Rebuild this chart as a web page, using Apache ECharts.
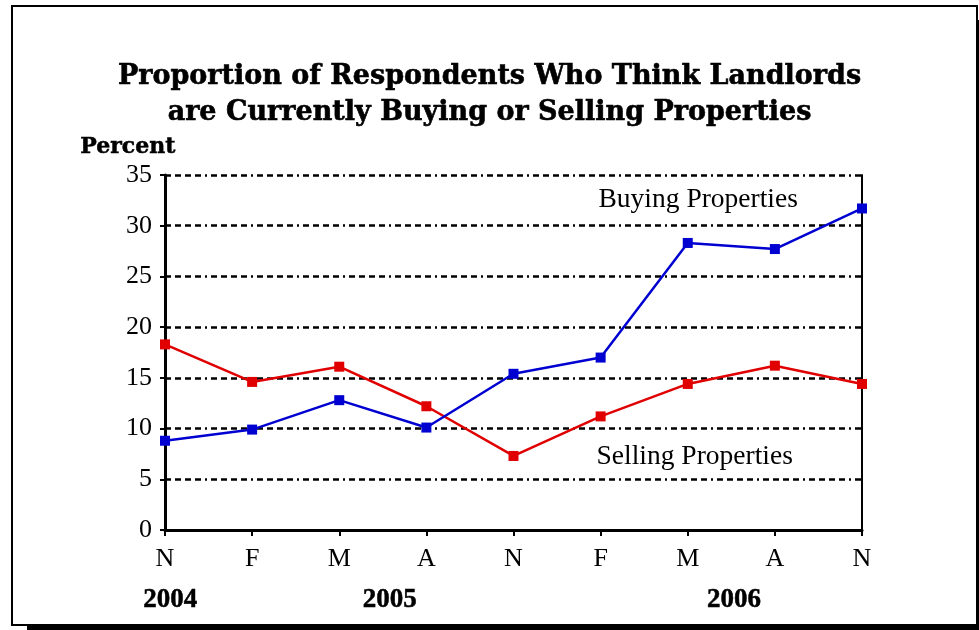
<!DOCTYPE html>
<html>
<head>
<meta charset="utf-8">
<script src="https://cdn.jsdelivr.net/npm/echarts@6/dist/echarts.min.js"></script>
<style>
  html, body { margin: 0; padding: 0; background: #fff; }
  #chart { width: 979px; height: 630px; }
</style>
</head>
<body>
<div id="chart"></div>
<script>
// Survey periods (month initials) and the year each group starts in
const months = ['N', 'F', 'M', 'A', 'N', 'F', 'M', 'A', 'N'];
const years = [
  { text: '2004', pos: 0.06 },
  { text: '2005', pos: 2.58 },
  { text: '2006', pos: 6.53 }
];
// Share of respondents (%)
const buying = [8.8, 9.9, 12.8, 10.1, 15.4, 17.0, 28.3, 27.7, 31.7];
const selling = [18.3, 14.6, 16.1, 12.2, 7.3, 11.2, 14.4, 16.2, 14.4];
// Y axis ticks
const yMin = 0, yMax = 35, yStep = 5;

const serif = '"Liberation Serif", "Times New Roman", serif';
const titleFont = '"DejaVu Serif", serif';
const gridDash = [6, 4, 6, 4, 6, 4, 6, 4, 2, 4];

const chart = echarts.init(document.getElementById('chart'), null, { renderer: 'canvas' });

const option = {
  backgroundColor: '#ffffff',
  animation: false,
  title: {
    text: 'Proportion of Respondents Who Think Landlords\nare Currently Buying or Selling Properties',
    left: 'center',
    top: 54,
    textStyle: {
      fontFamily: titleFont,
      fontWeight: 'bold',
      fontSize: 27,
      lineHeight: 36,
      color: '#000',
      textBorderColor: '#000',
      textBorderWidth: 0.6
    }
  },
  grid: { left: 165, right: 117, top: 175, bottom: 100 },
  xAxis: {
    type: 'category',
    data: months,
    boundaryGap: false,
    axisLine: { show: true, lineStyle: { color: '#000', width: 3 } },
    axisTick: { show: true, inside: false, length: 6, alignWithLabel: true, lineStyle: { color: '#000', width: 2 } },
    axisLabel: { margin: 16, fontFamily: serif, fontSize: 26, color: '#000' },
    splitLine: { show: false }
  },
  yAxis: [
    {
      type: 'value',
      min: yMin,
      max: yMax,
      interval: yStep,
      axisLine: { show: true, lineStyle: { color: '#000', width: 3 } },
      axisTick: { show: true, length: 5, lineStyle: { color: '#000', width: 2 } },
      axisLabel: { margin: 13, fontFamily: serif, fontSize: 26, color: '#000' },
      splitLine: { show: true, lineStyle: { color: '#000', width: 2.5, type: gridDash } }
    },
    {
      type: 'value',
      position: 'right',
      min: yMin,
      max: yMax,
      interval: yStep,
      axisLine: { show: true, lineStyle: { color: '#000', width: 2 } },
      axisTick: { show: false },
      axisLabel: { show: false },
      splitLine: { show: false }
    }
  ],
  series: [
    {
      name: 'Selling Properties',
      type: 'line',
      data: selling,
      symbol: 'rect',
      symbolSize: 10,
      z: 3,
      lineStyle: { color: '#E00000', width: 2.5 },
      itemStyle: { color: '#E00000' }
    },
    {
      name: 'Buying Properties',
      type: 'line',
      data: buying,
      symbol: 'rect',
      symbolSize: 10,
      z: 4,
      lineStyle: { color: '#0000D0', width: 2.5 },
      itemStyle: { color: '#0000D0' }
    }
  ]
};

chart.setOption(option);

// Pixel position for a (possibly fractional) category index and value
function px(idx, val) {
  const i0 = Math.floor(idx);
  const i1 = Math.min(i0 + 1, months.length - 1);
  const a = chart.convertToPixel({ gridIndex: 0 }, [i0, val]);
  const b = chart.convertToPixel({ gridIndex: 0 }, [i1, val]);
  const f = idx - i0;
  return [a[0] + (b[0] - a[0]) * f, a[1]];
}

const buyLbl = px(6.12, 32.6);
const sellLbl = px(6.08, 7.2);
const yearY = px(0, 0)[1] + 70;

const graphics = [
  // frame shadow and frame
  { type: 'rect', z: -20, silent: true, shape: { x: 27, y: 20, width: 960, height: 611 }, style: { fill: '#000' } },
  { type: 'rect', z: -10, silent: true, shape: { x: 12, y: 6, width: 965, height: 619 }, style: { fill: '#fff', stroke: '#000', lineWidth: 2 } },
  {
    type: 'text', left: 80, top: 136,
    style: { text: 'Percent', font: 'bold 22px ' + titleFont, fill: '#000', stroke: '#000', lineWidth: 0.5 }
  },
  {
    type: 'text', x: buyLbl[0], y: buyLbl[1],
    style: { text: 'Buying Properties', font: '27.5px ' + serif, fill: '#000', align: 'center', verticalAlign: 'middle' }
  },
  {
    type: 'text', x: sellLbl[0], y: sellLbl[1],
    style: { text: 'Selling Properties', font: '27.5px ' + serif, fill: '#000', align: 'center', verticalAlign: 'middle' }
  }
];
years.forEach(function (y) {
  const p = px(y.pos, 0);
  graphics.push({
    type: 'text', x: p[0], y: yearY,
    style: { text: y.text, font: 'bold 27px ' + serif, fill: '#000', align: 'center', verticalAlign: 'middle', stroke: '#000', lineWidth: 0.5 }
  });
});

chart.setOption({ graphic: graphics });
</script>
</body>
</html>
